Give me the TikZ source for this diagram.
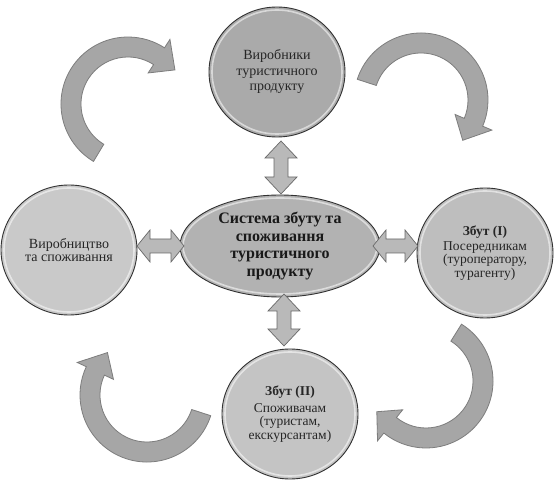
\documentclass[tikz,border=0pt]{standalone}
\usepackage{fontspec}
\setmainfont{Liberation Serif}
\usetikzlibrary{shapes.geometric,calc}
\definecolor{ctop}{RGB}{170,170,170}
\definecolor{cleft}{RGB}{201,201,201}
\definecolor{cright}{RGB}{190,190,190}
\definecolor{cbot}{RGB}{196,196,196}
\definecolor{ccen}{RGB}{178,178,178}
\definecolor{carr}{RGB}{166,166,166}
\definecolor{carrline}{RGB}{125,125,125}
\definecolor{cdbl}{RGB}{185,185,185}
\definecolor{cdblline}{RGB}{105,105,105}
\definecolor{cedge}{RGB}{50,50,50}
\tikzset{
  ball/.style={ellipse, draw=cedge, line width=0.9pt, minimum width=136pt, minimum height=130pt, inner sep=0pt, align=center, text=black!85},
  ringarr/.style={fill=carr, draw=carrline, line width=0.8pt, line join=miter},
  dblarr/.style={draw=cdblline, line width=0.7pt, line join=miter},
  dblv/.style={dblarr, left color=cdbl, middle color=white, right color=cdbl},
  dblh/.style={dblarr, top color=cdbl, middle color=white, bottom color=cdbl},
  shine/.style={draw=white, opacity=0.55, line width=1.6pt}
}
% #1 centre, #2 tail angle, #3 head base angle, #4 tip angle
\newcommand{\ringarrow}[4]{%
  \draw[ringarr] ($(#1)+(#2:67pt)$) arc[start angle=#2, end angle=#3, radius=67pt]
    -- ($(#1)+(#3:77pt)$) -- ($(#1)+(#4:58pt)$) -- ($(#1)+(#3:37pt)$)
    -- ($(#1)+(#3:47pt)$) arc[start angle=#3, end angle=#2, radius=47pt] -- cycle;}
% #1 style, #2 from, #3 to, #4 head length
\newcommand{\dblarrow}[4]{%
  \draw[#1] (#2) -- ($(#2)!#4!(#3)!16pt!90:(#3)$) -- ($(#2)!#4!(#3)!7pt!90:(#3)$)
    -- ($(#3)!#4!(#2)!7pt!-90:(#2)$) -- ($(#3)!#4!(#2)!16pt!-90:(#2)$) -- (#3)
    -- ($(#3)!#4!(#2)!16pt!90:(#2)$) -- ($(#3)!#4!(#2)!7pt!90:(#2)$)
    -- ($(#2)!#4!(#3)!7pt!-90:(#3)$) -- ($(#2)!#4!(#3)!16pt!-90:(#3)$) -- cycle;}
\begin{document}
\begin{tikzpicture}[x=1pt,y=1pt]
\useasboundingbox (0,0) rectangle (555,-486);
\fill[white] (0,0) rectangle (555,-486);

% curved arrows
\coordinate (ctl) at (128,-104);
\coordinate (ctr) at (421,-100);
\coordinate (cbr) at (426,-381);
\coordinate (cbl) at (147,-395);
\ringarrow{ctl}{239}{57}{36}
\ringarrow{ctr}{162}{-23}{-44}
\ringarrow{cbr}{58}{-129}{-148}
\ringarrow{cbl}{342}{155}{133}

% nodes
\node[ball, fill=ctop, font=\fontsize{14}{15.5}\selectfont] (top) at (277,-72)
  {Виробники\\туристичного\\продукту};
\node[ball, fill=cleft, font=\fontsize{14}{13.5}\selectfont] (left) at (69,-250)
  {Виробництво\\та споживання};
\node[ball, fill=cright, font=\fontsize{13.5}{13.5}\selectfont] (right) at (485,-253)
  {\textbf{Збут (I)}\\[1pt]Посередникам\\(туроператору,\\турагенту)};
\node[ball, fill=cbot, font=\fontsize{13.5}{13.5}\selectfont] (bottom) at (290,-414)
  {\textbf{Збут (II)}\\[3pt]Споживачам\\(туристам,\\екскурсантам)};
\node[ellipse, draw=cedge, line width=0.9pt, fill=ccen, minimum width=200pt, minimum height=102pt, inner sep=0pt, align=center, text=black!90, font=\fontsize{16}{17.5}\selectfont\bfseries] (sys) at (280,-246)
  {Система збуту та\\споживання\\туристичного\\продукту};

% bevel highlights
\foreach \n in {top,left,right,bottom}
  \draw[shine] (\n.center) ellipse[x radius=65pt, y radius=62pt];
\draw[shine] (sys.center) ellipse[x radius=97pt, y radius=48pt];

% double arrows
\coordinate (t1) at (281,-141);
\coordinate (t2) at (281,-194);
\coordinate (b1) at (284,-294);
\coordinate (b2) at (284,-346);
\coordinate (l1) at (137,-246);
\coordinate (l2) at (184,-246);
\coordinate (r1) at (373,-246);
\coordinate (r2) at (418,-246);
\dblarrow{dblv}{t1}{t2}{17pt}
\dblarrow{dblv}{b1}{b2}{17pt}
\dblarrow{dblh}{l1}{l2}{13pt}
\dblarrow{dblh}{r1}{r2}{13pt}
\end{tikzpicture}
\end{document}
